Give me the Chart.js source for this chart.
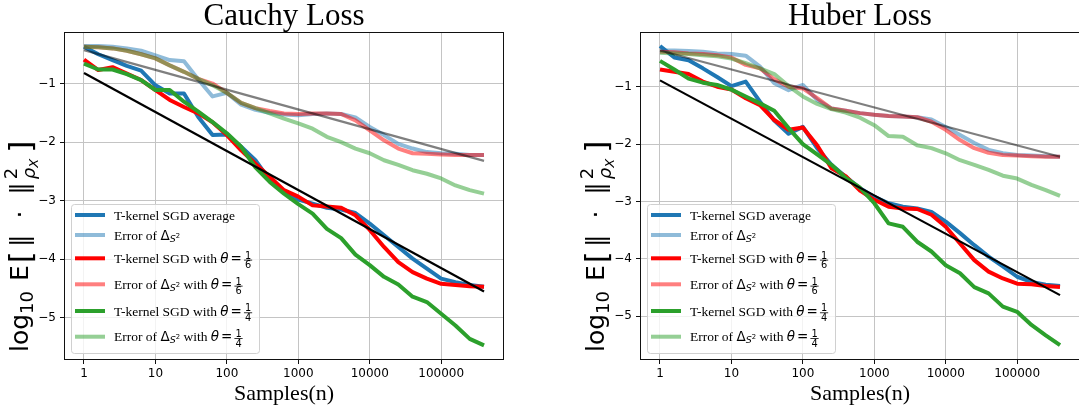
<!DOCTYPE html>
<html>
<head>
<meta charset="utf-8">
<script src="https://cdn.jsdelivr.net/npm/chart.js@4.4.1/dist/chart.umd.min.js"></script>
<style>
  html, body { margin: 0; padding: 0; background: #fff; }
  #wrap { position: relative; width: 1079px; height: 409px; overflow: hidden; }
  .panel { position: absolute; top: 0; width: 540px; height: 409px; }
</style>
</head>
<body>
<div id="wrap">
  <div class="panel" style="left:0"><canvas id="cauchy" width="540" height="409"></canvas></div>
  <div class="panel" style="left:560px"><canvas id="huber" width="540" height="409"></canvas></div>
</div>
<script>
// sample sizes (log-spaced, 5 per decade)
const samples = [1, 1.585, 2.512, 3.981, 6.31, 10, 15.85, 25.12, 39.81, 63.1, 100, 158.5, 251.2, 398.1, 631,
  1000, 1585, 2512, 3981, 6310, 10000, 15849, 25119, 39811, 63096, 100000, 158489, 251189, 398107];
const xTicks = [1, 10, 100, 1000, 10000, 100000];
const yTicks = [-5, -4, -3, -2, -1];
const refX = [1, 398107];

// Cauchy loss
const cauchyAvg = [-0.37, -0.50, -0.60, -0.70, -0.78, -1.03, -1.17, -1.17, -1.57, -1.88, -1.87, -2.08, -2.31, -2.65, -2.85,
  -2.98, -3.05, -3.12, -3.15, -3.21, -3.39, -3.59, -3.79, -3.99, -4.16, -4.33, -4.39, -4.44, -4.47];
const cauchyAvgErr = [-0.36, -0.36, -0.37, -0.40, -0.44, -0.52, -0.60, -0.62, -0.93, -1.22, -1.16, -1.36, -1.45, -1.50, -1.53,
  -1.54, -1.52, -1.51, -1.52, -1.58, -1.74, -1.88, -2.03, -2.11, -2.17, -2.19, -2.20, -2.22, -2.22];
const cauchySixth = [-0.59, -0.77, -0.72, -0.83, -0.94, -1.11, -1.28, -1.40, -1.51, -1.66, -1.88, -2.14, -2.37, -2.59, -2.82,
  -2.93, -3.08, -3.10, -3.12, -3.25, -3.50, -3.79, -4.05, -4.22, -4.33, -4.42, -4.44, -4.46, -4.47];
const cauchySixthErr = [-0.37, -0.38, -0.40, -0.44, -0.50, -0.57, -0.69, -0.80, -0.92, -1.00, -1.16, -1.33, -1.42, -1.47, -1.51,
  -1.52, -1.51, -1.51, -1.52, -1.63, -1.80, -1.97, -2.11, -2.19, -2.20, -2.21, -2.22, -2.22, -2.22];
const cauchyQuarter = [-0.66, -0.76, -0.76, -0.84, -0.94, -1.11, -1.11, -1.31, -1.48, -1.66, -1.85, -2.08, -2.43, -2.68, -2.88,
  -3.06, -3.22, -3.48, -3.64, -3.92, -4.10, -4.30, -4.43, -4.64, -4.73, -4.93, -5.13, -5.36, -5.47];
const cauchyQuarterErr = [-0.37, -0.38, -0.40, -0.44, -0.50, -0.57, -0.69, -0.80, -0.92, -1.03, -1.16, -1.33, -1.42, -1.51, -1.60,
  -1.68, -1.77, -1.91, -2.00, -2.11, -2.19, -2.31, -2.39, -2.48, -2.54, -2.62, -2.74, -2.82, -2.88];
const cauchyRate = [-0.82, -4.55];
const cauchyHalfRate = [-0.43, -2.32];

// Huber loss
const huberAvg = [-0.29, -0.49, -0.54, -0.68, -0.83, -0.99, -0.91, -1.26, -1.59, -1.82, -1.70, -2.07, -2.36, -2.57, -2.77,
  -2.92, -3.03, -3.09, -3.12, -3.18, -3.35, -3.55, -3.76, -3.96, -4.13, -4.31, -4.40, -4.45, -4.47];
const huberAvgErr = [-0.37, -0.37, -0.38, -0.39, -0.42, -0.43, -0.46, -0.65, -0.94, -1.06, -0.97, -1.23, -1.38, -1.42, -1.46,
  -1.49, -1.51, -1.52, -1.53, -1.57, -1.70, -1.84, -1.98, -2.10, -2.16, -2.19, -2.20, -2.21, -2.22];
const huberSixth = [-0.70, -0.74, -0.78, -0.91, -1.00, -1.05, -1.20, -1.32, -1.58, -1.75, -1.71, -2.02, -2.42, -2.56, -2.81,
  -2.97, -3.09, -3.12, -3.13, -3.23, -3.44, -3.73, -4.02, -4.22, -4.34, -4.43, -4.44, -4.47, -4.49];
const huberSixthErr = [-0.39, -0.40, -0.42, -0.43, -0.45, -0.49, -0.62, -0.68, -0.87, -1.00, -1.03, -1.20, -1.38, -1.42, -1.46,
  -1.49, -1.51, -1.52, -1.53, -1.61, -1.75, -1.93, -2.07, -2.15, -2.19, -2.20, -2.21, -2.22, -2.22];
const huberQuarter = [-0.55, -0.70, -0.86, -0.93, -0.97, -1.05, -1.17, -1.29, -1.42, -1.72, -2.00, -2.18, -2.36, -2.59, -2.76,
  -3.03, -3.38, -3.44, -3.70, -3.87, -4.11, -4.25, -4.49, -4.60, -4.83, -4.92, -5.15, -5.33, -5.50];
const huberQuarterErr = [-0.41, -0.42, -0.43, -0.45, -0.47, -0.51, -0.59, -0.68, -0.78, -0.99, -1.17, -1.30, -1.39, -1.45, -1.54,
  -1.67, -1.86, -1.87, -2.02, -2.07, -2.16, -2.28, -2.36, -2.45, -2.55, -2.60, -2.71, -2.80, -2.90];
const huberRate = [-0.89, -4.63];
const huberHalfRate = [-0.37, -2.22];

const serif = '"Liberation Serif", "Times New Roman", serif';
const sans = '"DejaVu Sans", sans-serif';

const seriesColors = ['#1f77b4', 'rgba(31,119,180,0.5)', '#ff0000', 'rgba(255,0,0,0.5)', '#2ca02c', 'rgba(44,160,44,0.5)'];

// legend text pieces (serif text + mathtext bits)
const F_TXT = `13.5px ${serif}`;
const F_M = `13.5px ${sans}`;
const F_MI = `italic 13.5px ${sans}`;
const F_SUBI = `italic 9.5px ${sans}`;
const F_SUP = `6.8px ${sans}`;
const F_FRAC = `9.8px ${sans}`;
const deltaS2 = [{ t: 'Δ', font: F_M }, { t: 'S', font: F_SUBI, dy: 2.2 }, { t: '2', font: F_SUP, dy: -1.8 }];
const theta = (n, d) => [{ t: 'θ', font: F_MI }, { gap: 2 }, { t: '=', font: F_M }, { gap: 2 }, { frac: [n, d], font: F_FRAC }];
const legendEntries = [
  [{ t: 'T-kernel SGD average', font: F_TXT }],
  [{ t: 'Error of ', font: F_TXT }, ...deltaS2],
  [{ t: 'T-kernel SGD with ', font: F_TXT }, ...theta('1', '6')],
  [{ t: 'Error of ', font: F_TXT }, ...deltaS2, { t: ' with ', font: F_TXT }, ...theta('1', '6')],
  [{ t: 'T-kernel SGD with ', font: F_TXT }, ...theta('1', '4')],
  [{ t: 'Error of ', font: F_TXT }, ...deltaS2, { t: ' with ', font: F_TXT }, ...theta('1', '4')]
];
const legendRowY = [11, 31, 54.3, 80.3, 107, 132.7];

// y axis label: log10 E[ ||.||^2_{rho_X} ]
const Y_BIG = `25px ${sans}`;
const Y_SMALL = `18px ${sans}`;
const Y_SMALLI = `italic 18px ${sans}`;
const Y_TINYI = `italic 13px ${sans}`;
const Y_BRACKET = `31px ${sans}`;
const yLabelParts = [
  { t: 'log', font: Y_BIG }, { t: '10', font: Y_SMALL, dy: 5 }, { gap: 10 }, { t: 'E', font: Y_BIG }, { gap: 2 },
  { t: '[', font: Y_BRACKET, dy: 3 }, { gap: 4 }, { t: '‖', font: Y_BIG }, { gap: 16 }, { t: '·', font: Y_BIG }, { gap: 16 },
  { t: '‖', font: Y_BIG }, { gap: 3 },
  { stack: [[{ t: '2', font: Y_SMALL, dy: -11 }], [{ t: 'ρ', font: Y_SMALLI, dy: 7 }, { t: 'X', font: Y_TINYI, dy: 10 }]] },
  { gap: 6 }, { t: ']', font: Y_BRACKET, dy: 3 }
];

function runText(ctx, x, y, parts, draw) {
  for (const p of parts) {
    if (p.gap) { x += p.gap; continue; }
    if (p.frac) {
      ctx.font = p.font;
      const w = Math.max(ctx.measureText(p.frac[0]).width, ctx.measureText(p.frac[1]).width) + 2;
      if (draw) {
        ctx.textAlign = 'center';
        ctx.fillText(p.frac[0], x + w / 2, y - 4.3);
        ctx.fillText(p.frac[1], x + w / 2, y + 5.6);
        ctx.fillRect(x, y - 3.1, w, 0.8);
        ctx.textAlign = 'left';
      }
      x += w;
      continue;
    }
    if (p.stack) {
      let end = x;
      p.stack.forEach(sub => { end = Math.max(end, runText(ctx, x, y, sub, draw)); });
      x = end;
      continue;
    }
    ctx.font = p.font;
    if (draw) ctx.fillText(p.t, x, y + (p.dy || 0));
    x += ctx.measureText(p.t).width;
  }
  return x;
}

const decor = {
  id: 'decor',
  afterDraw(chart, args, opts) {
    const ctx = chart.ctx;
    const a = chart.chartArea;
    ctx.save();
    // axes frame
    ctx.strokeStyle = '#111';
    ctx.lineWidth = 1;
    ctx.strokeRect(Math.round(a.left) + 0.5, Math.round(a.top) + 0.5,
      Math.round(a.right - a.left) - 1, Math.round(a.bottom - a.top) - 1);

    ctx.fillStyle = '#000';
    ctx.textBaseline = 'alphabetic';
    const cx = (a.left + a.right) / 2;
    ctx.textAlign = 'center';
    ctx.font = `31px ${serif}`;
    ctx.fillText(opts.title, cx, 25);
    ctx.font = `22px ${serif}`;
    ctx.fillText('Samples(n)', cx, 400);

    // y label (rotated), starts near the bottom of the axes
    ctx.textAlign = 'left';
    ctx.save();
    ctx.translate(a.left - 36, 352);
    ctx.rotate(-Math.PI / 2);
    runText(ctx, 0, 0, yLabelParts, true);
    ctx.restore();

    // legend
    const bx = a.left + 7, bw = 188, bh = 149, by = a.bottom - 7 - bh;
    ctx.beginPath();
    ctx.roundRect(bx + 0.5, by + 0.5, bw, bh, 3);
    ctx.fillStyle = 'rgba(255,255,255,0.8)';
    ctx.fill();
    ctx.strokeStyle = '#d0d0d0';
    ctx.lineWidth = 1;
    ctx.stroke();
    legendEntries.forEach((parts, i) => {
      const hy = by + legendRowY[i];
      ctx.strokeStyle = seriesColors[i];
      ctx.lineWidth = 4;
      ctx.beginPath();
      ctx.moveTo(bx + 4, hy);
      ctx.lineTo(bx + 34, hy);
      ctx.stroke();
      ctx.fillStyle = '#000';
      runText(ctx, bx + 43, hy + 4.5, parts, true);
    });
    ctx.restore();
  }
};

function points(xs, ys) {
  return xs.map((x, i) => ({ x: x, y: ys[i] }));
}

function buildChart(id, series, rate, halfRate, yMin, yMax, yWidth, padRight, title) {
  const datasets = series.map((ys, i) => ({
    data: points(samples, ys),
    borderColor: seriesColors[i],
    borderWidth: 4,
    order: -i
  }));
  datasets.push({ data: points(refX, rate), borderColor: '#000', borderWidth: 2.2, order: -6 });
  datasets.push({ data: points(refX, halfRate), borderColor: 'rgba(0,0,0,0.5)', borderWidth: 2.2, order: -7 });

  const tickFont = { family: 'DejaVu Sans', size: 12 };
  return new Chart(document.getElementById(id), {
    type: 'line',
    data: { datasets: datasets },
    plugins: [decor],
    options: {
      responsive: false,
      animation: false,
      events: [],
      layout: { padding: { top: 32, right: padRight, left: 0, bottom: 0 } },
      elements: {
        point: { radius: 0 },
        line: { tension: 0, borderJoinStyle: 'round', borderCapStyle: 'butt', fill: false }
      },
      plugins: {
        legend: { display: false },
        tooltip: { enabled: false },
        decor: { title: title }
      },
      scales: {
        x: {
          type: 'logarithmic',
          min: 0.525,
          max: 758000,
          afterBuildTicks: s => { s.ticks = xTicks.map(v => ({ value: v })); },
          afterFit: s => { s.height = 49; },
          ticks: { callback: v => String(v), font: tickFont, color: '#000', padding: 3, maxRotation: 0, autoSkip: false },
          grid: { color: '#c4c4c4', lineWidth: 1, tickColor: '#111', tickLength: 4 },
          border: { display: false }
        },
        y: {
          type: 'linear',
          min: yMin,
          max: yMax,
          afterBuildTicks: s => { s.ticks = yTicks.map(v => ({ value: v })); },
          afterFit: s => { s.width = yWidth; },
          ticks: { callback: v => '\u2212' + Math.abs(v), font: tickFont, color: '#000', padding: 4 },
          grid: { color: '#c4c4c4', lineWidth: 1, tickColor: '#111', tickLength: 4 },
          border: { display: false }
        }
      }
    }
  });
}

buildChart('cauchy',
  [cauchyAvg, cauchyAvgErr, cauchySixth, cauchySixthErr, cauchyQuarter, cauchyQuarterErr],
  cauchyRate, cauchyHalfRate, -5.72, -0.12, 64, 36, 'Cauchy Loss');
buildChart('huber',
  [huberAvg, huberAvgErr, huberSixth, huberSixthErr, huberQuarter, huberQuarterErr],
  huberRate, huberHalfRate, -5.76, -0.047, 80, 20, 'Huber Loss');
</script>
</body>
</html>
